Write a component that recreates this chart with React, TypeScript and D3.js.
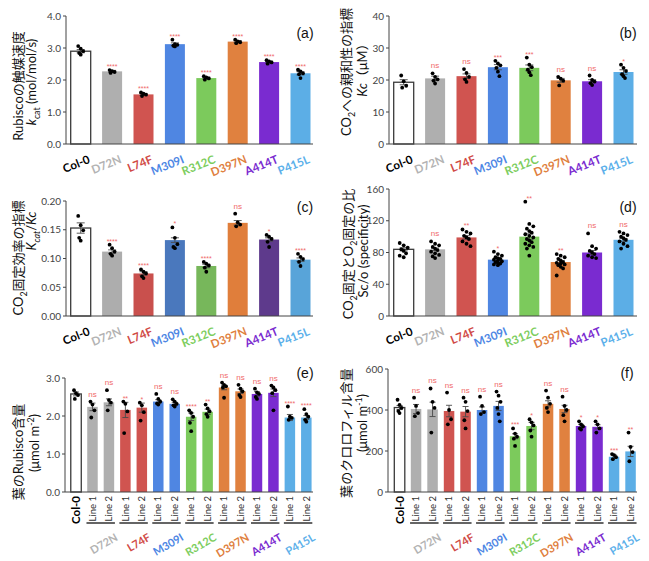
import * as d3 from "d3";

// genotypes and colours
const GENO = ["Col-0", "D72N", "L74F", "M309I", "R312C", "D397N", "A414T", "P415L"];
const BAR_COL = ["#ffffff", "#afafaf", "#d05450", "#4f86e2", "#7cca5c", "#e0813f", "#7a2bd0", "#5caee6"];
const BAR_COL_C = ["#ffffff", "#adadad", "#c9504d", "#4a78bd", "#77b75b", "#e07e3b", "#5e3a8c", "#58a4d9"];
const LABEL_COL = ["#000000", "#b3b3b3", "#d04a46", "#4d86e4", "#7ccd5d", "#e0803e", "#7a2bd0", "#5cb0ea"];
const LINES = ["Line 1", "Line 2"];

// (a) kcat
const kcatMean = [2.9, 2.27, 1.55, 3.12, 2.06, 3.2, 2.56, 2.21];
const kcatSem = [0.05, 0.03, 0.03, 0.04, 0.03, 0.03, 0.03, 0.05];
const kcatPts = [
  [3.06, 2.98, 2.9, 2.84, 2.79],
  [2.31, 2.28, 2.25, 2.22],
  [1.61, 1.57, 1.54, 1.5],
  [3.26, 3.12, 3.1, 3.07, 3.05],
  [2.12, 2.08, 2.05, 2.01],
  [3.26, 3.21, 3.18, 3.15],
  [2.62, 2.58, 2.55, 2.51],
  [2.32, 2.27, 2.21, 2.18, 2.06],
];
const kcatSig = ["", "****", "****", "****", "****", "****", "****", "****"];

// (b) Kc
const kcMean = [19.3, 20.5, 21.2, 24.0, 23.8, 19.9, 19.6, 22.5];
const kcSem = [0.8, 0.7, 0.7, 0.8, 0.9, 0.6, 0.5, 0.7];
const kcPts = [
  [21.4, 19.6, 18.2, 17.6],
  [22.1, 21.0, 20.2, 19.8, 18.9],
  [23.4, 22.2, 21.0, 20.2, 19.4],
  [26.0, 25.2, 24.6, 23.8, 22.6, 21.2],
  [27.0, 24.8, 24.0, 23.2, 22.4, 21.5],
  [21.0, 20.4, 19.8, 18.3],
  [21.4, 20.0, 19.5, 19.0, 18.4],
  [24.8, 23.8, 22.8, 21.8, 21.2, 20.6],
];
const kcSig = ["", "ns", "ns", "***", "***", "ns", "ns", "*"];

// (c) kcat/Kc
const effMean = [0.153, 0.112, 0.074, 0.132, 0.087, 0.162, 0.133, 0.098];
const effSem = [0.009, 0.003, 0.003, 0.004, 0.003, 0.004, 0.003, 0.003];
const effPts = [
  [0.174, 0.158, 0.149, 0.136, 0.131],
  [0.124, 0.118, 0.112, 0.108, 0.105],
  [0.081, 0.077, 0.074, 0.069, 0.066],
  [0.154, 0.136, 0.125, 0.12, 0.118],
  [0.094, 0.091, 0.088, 0.084, 0.077],
  [0.178, 0.163, 0.159, 0.156],
  [0.141, 0.138, 0.134, 0.129, 0.12],
  [0.108, 0.103, 0.099, 0.094, 0.087],
];
const effSig = ["", "****", "****", "*", "****", "ns", "*", "****"];

// (d) Sc/o
const scoMean = [84, 84, 99, 71, 100, 68, 80, 96];
const scoSem = [2, 1.6, 2.2, 1.2, 3.5, 1.8, 2.5, 1.8];
const scoPts = [
  [92, 89, 86, 84, 82, 79, 76, 74],
  [94, 91, 89, 87, 85, 83, 81, 79, 77, 75, 73],
  [109, 106, 104, 101, 99, 97, 94, 91, 88],
  [81, 78, 76, 74, 73, 72, 71, 70, 69, 68, 67, 66, 65, 64],
  [144, 116, 113, 110, 107, 105, 103, 101, 99, 97, 95, 93, 91, 89, 87, 85, 76],
  [78, 76, 74, 72, 70, 68, 67, 66, 65, 64, 62, 60, 51],
  [104, 88, 85, 82, 80, 78, 76, 74, 73],
  [106, 104, 102, 100, 98, 96, 94, 91, 88, 85],
];
const scoSig = ["", "ns", "**", "*", "**", "**", "ns", "ns"];

// (e) leaf Rubisco content (Col-0, then Line 1 / Line 2 per mutant)
const rubMean = [2.58, 2.24, 2.36, 2.16, 2.22, 2.38, 2.32, 1.98, 2.11, 2.75, 2.65, 2.58, 2.61, 1.96, 1.96];
const rubSem = [0.05, 0.1, 0.09, 0.2, 0.12, 0.05, 0.04, 0.1, 0.07, 0.06, 0.06, 0.06, 0.1, 0.08, 0.05];
const rubPts = [
  [2.68, 2.6, 2.55, 2.45],
  [2.38, 2.3, 2.15, 1.96],
  [2.68, 2.42, 2.35, 2.15],
  [2.38, 2.32, 2.12, 1.55],
  [2.35, 2.28, 2.1, 1.88],
  [2.58, 2.45, 2.38, 2.33, 2.3],
  [2.44, 2.38, 2.32, 2.28, 2.25],
  [2.15, 2.08, 1.98, 1.82, 1.6],
  [2.3, 2.2, 2.12, 2.05, 1.98],
  [2.88, 2.82, 2.78, 2.75, 2.48],
  [2.82, 2.72, 2.65, 2.55, 2.5],
  [2.72, 2.62, 2.58, 2.5, 2.45],
  [2.8, 2.75, 2.68, 2.6, 2.15],
  [2.25, 1.98, 1.95, 1.9],
  [2.18, 2.05, 1.98, 1.9, 1.85],
];
const rubSig = ["", "ns", "ns", "**", "*", "ns", "ns", "****", "**", "ns", "ns", "ns", "ns", "****", "****"];

// (f) leaf chlorophyll content
const chlMean = [412, 405, 403, 395, 392, 400, 420, 272, 322, 430, 405, 322, 318, 172, 198];
const chlSem = [10, 22, 35, 28, 25, 15, 22, 12, 18, 15, 18, 8, 10, 8, 25];
const chlPts = [
  [450, 425, 410, 395, 385],
  [460, 420, 385, 370],
  [505, 440, 410, 290],
  [485, 400, 355, 330],
  [460, 440, 395, 350, 310],
  [465, 420, 390, 380],
  [490, 470, 440, 410, 380, 345],
  [310, 285, 270, 260, 225],
  [355, 340, 325, 300, 270],
  [495, 460, 430, 410, 390],
  [465, 420, 400, 375, 345],
  [345, 330, 320, 310, 305],
  [345, 330, 310, 290],
  [185, 180, 170, 160],
  [290, 220, 195, 150],
];
const chlSig = ["", "ns", "ns", "ns", "ns", "ns", "ns", "***", "*", "ns", "ns", "*", "*", "***", "**"];

const LATIN = "'Liberation Sans', Arial, sans-serif";
const SANS = "Lato, 'Noto Sans CJK JP', sans-serif";
const BOLD = "Lato, 'Open Sans', sans-serif";
const YLAB_SIZE = 13;

type Seg = { t: string; sub?: boolean; sup?: boolean; it?: boolean };

const Rich = ({ segs, size }: { segs: Seg[]; size: number }) => {
  let shift = 0;
  return (
    <>
      {segs.map((s, i) => {
        const target = s.sub ? size * 0.3 : s.sup ? -size * 0.38 : 0;
        const dy = target - shift;
        shift = target;
        return (
          <tspan key={i} dy={dy} fontSize={s.sub || s.sup ? size * 0.68 : size} fontStyle={s.it ? "italic" : "normal"}>
            {s.t}
          </tspan>
        );
      })}
    </>
  );
};

type Frame = { x0: number; x1: number; top: number; bottom: number };

interface PanelProps {
  f: Frame;
  yMax: number;
  ticks: number[];
  fmt: (v: number) => string;
  means: number[];
  sems: number[];
  pts: number[][];
  sig: string[];
  colorIdx: number[];
  barColors: string[];
  step: number;
  inset: number;
  barW: number;
  capW: number;
  jitter: number;
  tag: string;
  tagPos: [number, number];
  yLabels: { segs: Seg[]; x: number; y: number }[];
  lines: boolean;
}

const Panel = (p: PanelProps) => {
  const n = p.means.length;
  const y = d3.scaleLinear().domain([0, p.yMax]).range([p.f.bottom, p.f.top]);
  const x = d3
    .scalePoint<number>()
    .domain(d3.range(n))
    .range([p.f.x0 + p.inset, p.f.x0 + p.inset + n * p.step])
    .padding(0.5);
  const cx = (i: number) => x(i)!;

  return (
    <g>
      {/* bars */}
      {p.means.map((m, i) => (
        <rect
          key={"b" + i}
          x={cx(i) - p.barW / 2}
          y={y(m)}
          width={p.barW}
          height={p.f.bottom - y(m)}
          fill={p.barColors[p.colorIdx[i]]}
          stroke={i === 0 ? "#3a3a3a" : "none"}
          strokeWidth={1.3}
        />
      ))}
      {/* error bars */}
      {p.means.map((m, i) => {
        const hi = y(m + p.sems[i]);
        const lo = y(m - p.sems[i]);
        return (
          <g key={"e" + i} stroke="#4a4a4a" strokeWidth={0.9}>
            <line x1={cx(i)} x2={cx(i)} y1={hi} y2={lo} />
            <line x1={cx(i) - p.capW / 2} x2={cx(i) + p.capW / 2} y1={hi} y2={hi} />
            <line x1={cx(i) - p.capW / 2} x2={cx(i) + p.capW / 2} y1={lo} y2={lo} />
          </g>
        );
      })}
      {/* points */}
      {p.pts.map((arr, i) =>
        arr.map((v, j) => (
          <circle
            key={"p" + i + "-" + j}
            cx={cx(i) + ((j % 3) - 1) * p.jitter * (j % 2 === 0 ? 1 : 0.6)}
            cy={y(v)}
            r={1.9}
            fill="#000"
          />
        ))
      )}
      {/* significance */}
      {p.sig.map((s, i) => {
        if (!s) return null;
        const top = Math.min(y(d3.max(p.pts[i])!), y(p.means[i] + p.sems[i]));
        const isNs = s === "ns";
        return (
          <text
            key={"s" + i}
            x={cx(i)}
            y={isNs ? top - 5 : top - 1}
            textAnchor="middle"
            fontFamily={LATIN}
            fontSize={isNs ? 8 : 7}
            fill="#f06a6a"
          >
            {s}
          </text>
        );
      })}
      {/* axes */}
      <line x1={p.f.x0} x2={p.f.x0} y1={p.f.top} y2={p.f.bottom} stroke="#444" strokeWidth={1} />
      <line x1={p.f.x0} x2={p.f.x1} y1={p.f.bottom} y2={p.f.bottom} stroke="#444" strokeWidth={1} />
      {p.ticks.map((t) => (
        <g key={"t" + t}>
          <line x1={p.f.x0 - 3} x2={p.f.x0} y1={y(t)} y2={y(t)} stroke="#444" strokeWidth={1} />
          <text
            x={p.f.x0 - 5}
            y={y(t)}
            dy="0.35em"
            textAnchor="end"
            fontFamily={SANS}
            fontSize={10}
            fill="#444"
          >
            {p.fmt(t)}
          </text>
        </g>
      ))}
      {/* category labels */}
      {!p.lines &&
        GENO.map((g, i) => (
          <text
            key={"c" + i}
            transform={`translate(${cx(i) + 7},${p.f.bottom + 11}) rotate(-22)`}
            textAnchor="end"
            dy="0.7em"
            fontFamily={BOLD}
            fontWeight={700}
            fontSize={11.5}
            fill={LABEL_COL[i]}
          >
            {g}
          </text>
        ))}
      {p.lines && (
        <g>
          <text
            transform={`translate(${cx(0) + 4},${p.f.bottom + 4}) rotate(-90)`}
            textAnchor="end"
            fontFamily={BOLD}
            fontWeight={700}
            fontSize={11.5}
            fill="#000"
          >
            Col-0
          </text>
          {d3.range(1, n).map((i) => (
            <text
              key={"l" + i}
              transform={`translate(${cx(i) + 3.2},${p.f.bottom + 4}) rotate(-90)`}
              textAnchor="end"
              fontFamily={SANS}
              fontSize={9.5}
              fill="#333"
            >
              {LINES[(i - 1) % 2]}
            </text>
          ))}
          {GENO.slice(1).map((g, k) => {
            const a = cx(1 + k * 2);
            const b = cx(2 + k * 2);
            const mid = (a + b) / 2;
            return (
              <g key={"g" + k}>
                <line x1={a - 6} x2={b + 6} y1={p.f.bottom + 31} y2={p.f.bottom + 31} stroke="#111" strokeWidth={1.3} />
                <text
                  transform={`translate(${mid + 14},${p.f.bottom + 41}) rotate(-30)`}
                  textAnchor="end"
                  dy="0.7em"
                  fontFamily={BOLD}
                  fontWeight={700}
                  fontSize={11}
                  fill={LABEL_COL[k + 1]}
                >
                  {g}
                </text>
              </g>
            );
          })}
        </g>
      )}
      {/* y labels: x is the visual centre of the line, baseline sits 0.36em to its right */}
      {p.yLabels.map((l, i) => (
        <text
          key={"y" + i}
          transform={`translate(${l.x + YLAB_SIZE * 0.36},${l.y}) rotate(-90)`}
          textAnchor="middle"
          fontFamily={SANS}
          fill="#111"
        >
          <Rich segs={l.segs} size={YLAB_SIZE} />
        </text>
      ))}
      <text x={p.tagPos[0]} y={p.tagPos[1]} textAnchor="middle" fontFamily={LATIN} fontSize={14} fill="#111">
        {p.tag}
      </text>
    </g>
  );
};

const idx8 = d3.range(8);
const idx15 = d3.range(15).map((i) => (i === 0 ? 0 : Math.floor((i - 1) / 2) + 1));
const f1 = d3.format(".1f");
const f2 = d3.format(".2f");
const f0 = d3.format("d");

export default function App() {
  const top = { step: 31.4, inset: -1, barW: 20, capW: 8, jitter: 2.5, lines: false };
  const low = { step: 16.45, inset: 2.8, barW: 10.5, capW: 6, jitter: 2, lines: true };
  return (
    <svg width={649} height={561} style={{ position: "absolute", left: 0, top: 0, background: "#fff" }}>
      <Panel
        {...top}
        f={{ x0: 66, x1: 313, top: 16, bottom: 144 }}
        yMax={4}
        ticks={[0, 1, 2, 3, 4]}
        fmt={f1}
        means={kcatMean}
        sems={kcatSem}
        pts={kcatPts}
        sig={kcatSig}
        colorIdx={idx8}
        barColors={BAR_COL}
        tag="(a)"
        tagPos={[305, 38]}
        yLabels={[
          { segs: [{ t: "Rubiscoの触媒速度" }], x: 18, y: 86 },
          { segs: [{ t: "k", it: true }, { t: "cat", sub: true }, { t: " (mol/mol/s)" }], x: 31, y: 82 },
        ]}
      />
      <Panel
        {...top}
        f={{ x0: 389, x1: 637, top: 16, bottom: 144 }}
        yMax={40}
        ticks={[0, 10, 20, 30, 40]}
        fmt={f0}
        means={kcMean}
        sems={kcSem}
        pts={kcPts}
        sig={kcSig}
        colorIdx={idx8}
        barColors={BAR_COL}
        tag="(b)"
        tagPos={[628, 38]}
        yLabels={[
          { segs: [{ t: "CO" }, { t: "2", sub: true }, { t: "への親和性の指標" }], x: 346, y: 72 },
          { segs: [{ t: "Kc", it: true }, { t: "（μM）" }], x: 362, y: 67 },
        ]}
      />
      <Panel
        {...top}
        f={{ x0: 66, x1: 313, top: 201, bottom: 316 }}
        yMax={0.2}
        ticks={[0, 0.05, 0.1, 0.15, 0.2]}
        fmt={f2}
        means={effMean}
        sems={effSem}
        pts={effPts}
        sig={effSig}
        colorIdx={idx8}
        barColors={BAR_COL_C}
        tag="(c)"
        tagPos={[305, 212]}
        yLabels={[
          { segs: [{ t: "CO" }, { t: "2", sub: true }, { t: "固定効率の指標" }], x: 18, y: 258 },
          { segs: [{ t: "K", it: true }, { t: "cat", sub: true, it: true }, { t: "/" }, { t: "Kc", it: true }], x: 31, y: 231 },
        ]}
      />
      <Panel
        {...top}
        jitter={4}
        f={{ x0: 389, x1: 637, top: 189, bottom: 316 }}
        yMax={160}
        ticks={[0, 40, 80, 120, 160]}
        fmt={f0}
        means={scoMean}
        sems={scoSem}
        pts={scoPts}
        sig={scoSig}
        colorIdx={idx8}
        barColors={BAR_COL}
        tag="(d)"
        tagPos={[628, 212]}
        yLabels={[
          { segs: [{ t: "CO" }, { t: "2", sub: true }, { t: "固定とO" }, { t: "2", sub: true }, { t: "固定の比" }], x: 348, y: 254 },
          { segs: [{ t: "Sc/o (specificity)" }], x: 363, y: 251 },
        ]}
      />
      <Panel
        {...low}
        f={{ x0: 65, x1: 313, top: 378, bottom: 492 }}
        yMax={3}
        ticks={[0, 1, 2, 3]}
        fmt={f1}
        means={rubMean}
        sems={rubSem}
        pts={rubPts}
        sig={rubSig}
        colorIdx={idx15}
        barColors={BAR_COL}
        tag="(e)"
        tagPos={[305, 378]}
        yLabels={[
          { segs: [{ t: "葉のRubisco含量" }], x: 18, y: 452 },
          { segs: [{ t: "(μmol m" }, { t: "-2", sup: true }, { t: ")" }], x: 34, y: 443 },
        ]}
      />
      <Panel
        {...low}
        f={{ x0: 388, x1: 637, top: 369, bottom: 492 }}
        yMax={600}
        ticks={[0, 200, 400, 600]}
        fmt={f0}
        means={chlMean}
        sems={chlSem}
        pts={chlPts}
        sig={chlSig}
        colorIdx={idx15}
        barColors={BAR_COL}
        inset={3.3}
        step={16.5}
        tag="(f)"
        tagPos={[627, 378]}
        yLabels={[
          { segs: [{ t: "葉のクロロフィル含量" }], x: 346, y: 433 },
          { segs: [{ t: "(μmol m" }, { t: "-1", sup: true }, { t: ")" }], x: 362, y: 423 },
        ]}
      />
    </svg>
  );
}
